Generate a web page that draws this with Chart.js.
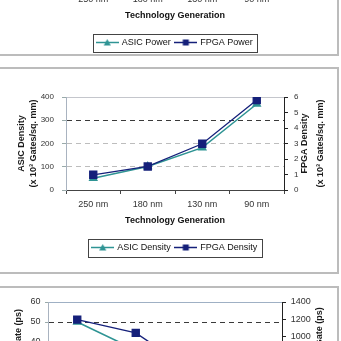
<!DOCTYPE html>
<html><head><meta charset="utf-8">
<script src="https://cdn.jsdelivr.net/npm/chart.js@4"></script>
<style>
html,body{margin:0;padding:0;background:#fff;width:341px;height:341px;overflow:hidden;position:relative}
.panel{position:absolute;border:2px solid #bcbcbc;box-sizing:border-box;background:#fff}
.wrap{position:absolute;left:0;width:339px}
canvas{display:block}
</style></head><body>
<div class="panel" style="left:-4px;top:-20px;width:343px;height:76px"></div>
<div class="panel" style="left:-2px;top:67px;width:341px;height:207px"></div>
<div class="panel" style="left:-2px;top:286px;width:341px;height:80px"></div>
<div class="wrap" style="top:-137px;height:204px"><canvas id="c1"></canvas></div>
<div class="wrap" style="top:68px;height:204px"><canvas id="c2"></canvas></div>
<div class="wrap" style="top:287px;height:218px"><canvas id="c3"></canvas></div>
<script>
// ---- data ----
const categories = ['250 nm', '180 nm', '130 nm', '90 nm'];
const asicPower = [1.0, 0.6, 0.35, 0.2];
const fpgaPower = [14, 9, 5, 3];
const asicDensity = [51, 101, 182, 370];
const fpgaDensity = [0.98, 1.52, 2.98, 5.8];
const asicDelay = [50, 36, 27, 20];
const fpgaDelay = [1195, 1040, 580, 400];
const densityLeftTicks = {min: 0, max: 400, step: 100};
const densityRightTicks = {min: 0, max: 6, step: 1};
const delayLeftTicks = {min: 0, max: 60, step: 10};
const delayRightTicks = {min: 0, max: 1400, step: 200};
const powerLeftTicks = {min: 0, max: 1.2, step: 0.2};
const powerRightTicks = {min: 0, max: 16, step: 2};

const F = '"Liberation Sans", Arial, sans-serif';
const TEAL = '#2f9494';
const NAVY = '#15207a';

function legendIcon(color, tri) {
  const c = document.createElement('canvas');
  c.width = 23; c.height = 9;
  const g = c.getContext('2d');
  g.strokeStyle = color; g.lineWidth = 1.5;
  g.beginPath(); g.moveTo(0, 4.5); g.lineTo(23, 4.5); g.stroke();
  g.fillStyle = color;
  if (tri) { g.beginPath(); g.moveTo(11.5, 1); g.lineTo(15, 7.5); g.lineTo(8, 7.5); g.closePath(); g.fill(); }
  else { g.fillRect(8.5, 1.5, 6, 6); }
  return c;
}
const iconA = legendIcon(TEAL, true), iconF = legendIcon(NAVY, false);

const legendFrame = {
  id: 'legendFrame',
  afterDraw(chart) {
    const lg = chart.legend;
    if (!lg || !lg.legendHitBoxes || !lg.legendHitBoxes.length) return;
    let l = Infinity, r = -Infinity, t = Infinity, b = -Infinity;
    lg.legendHitBoxes.forEach(h => {
      l = Math.min(l, h.left); r = Math.max(r, h.left + h.width);
      t = Math.min(t, h.top); b = Math.max(b, h.top + h.height);
    });
    const ctx = chart.ctx;
    ctx.save();
    ctx.strokeStyle = '#444'; ctx.lineWidth = 1;
    const x0 = Math.round(l - 4.5) + 0.5, y0 = Math.round(t - 4) + 0.5;
    ctx.strokeRect(x0, y0, Math.round(r + 4.5) - Math.round(l - 4.5), Math.round(b + 5) - Math.round(t - 4));
    ctx.restore();
  }
};

const rightTitle = {
  id: 'rightTitle',
  afterDraw(chart, args, opts) {
    const s = chart.scales.y1;
    if (!s || !opts.lines) return;
    const ctx = chart.ctx;
    ctx.save();
    ctx.font = 'bold 9px ' + F;
    ctx.fillStyle = '#1a1a1a';
    ctx.textAlign = 'center'; ctx.textBaseline = 'middle';
    const cy = (chart.chartArea.top + chart.chartArea.bottom) / 2;
    opts.lines.forEach((t, i) => {
      ctx.save();
      ctx.translate(s.right - opts.offsets[i], cy);
      ctx.rotate(-Math.PI / 2);
      ctx.fillText(t, 0, 0);
      ctx.restore();
    });
    ctx.restore();
  }
};

function build(id, o) {
  const gridCol = (ctx) => {
    const v = ctx.tick ? ctx.tick.value : null;
    if (v === o.lt.min || v === o.lt.max) return 'rgba(0,0,0,0)';
    if (v === o.darkAt) return '#3a3a3a';
    return '#bdbdbd';
  };
  const plain = v => String(v);
  return new Chart(document.getElementById(id), {
    type: 'line',
    data: {
      labels: categories,
      datasets: [
        {label: o.names[0], data: o.a, yAxisID: 'y', borderColor: TEAL, backgroundColor: TEAL,
         pointStyle: 'triangle', pointRadius: 4, borderWidth: 1.5, order: 1, tension: 0},
        {label: o.names[1], data: o.f, yAxisID: 'y1', borderColor: NAVY, backgroundColor: NAVY,
         pointStyle: 'rect', pointRadius: 5, borderWidth: 1.3, order: 0, tension: 0}
      ]
    },
    options: {
      responsive: true, maintainAspectRatio: false, animation: false, devicePixelRatio: 1,
      layout: {padding: {top: o.padTop, bottom: o.padBottom, left: 0, right: 0}},
      plugins: {
        tooltip: {enabled: false},
        legend: {
          position: 'bottom', fullSize: false,
          labels: {
            usePointStyle: true, pointStyleWidth: 20, padding: 5, color: '#111',
            font: {family: F, size: 9},
            sort: (a, b) => a.datasetIndex - b.datasetIndex,
            generateLabels: (chart) => chart.data.datasets.map((d, i) => ({
              text: d.label, datasetIndex: i, pointStyle: i === 0 ? iconA : iconF,
              fillStyle: d.borderColor, strokeStyle: d.borderColor, lineWidth: 0, hidden: false, fontColor: '#111'
            }))
          }
        },
        rightTitle: {lines: o.rLines, offsets: o.rOffsets}
      },
      scales: {
        x: {
          type: 'category', offset: true,
          grid: {offset: true, drawOnChartArea: false, drawTicks: true, tickLength: 4, color: '#444'},
          border: {color: '#444', width: 1},
          ticks: {font: {family: F, size: 9}, color: '#333', padding: 5, maxRotation: 0, autoSkip: false},
          title: {display: true, text: 'Technology Generation', color: '#111',
                  font: {family: F, size: 9, weight: 'bold'}, padding: {top: 0, bottom: o.xTitlePad}},
          afterFit: s => { s.height = o.xH; }
        },
        xt: {
          type: 'category', position: 'top', offset: true,
          ticks: {display: false}, grid: {display: false, drawTicks: false},
          border: {display: true, color: o.topCol, width: 1},
          afterFit: s => { s.height = 0; }
        },
        y: {
          position: 'left', min: o.lt.min, max: o.lt.max,
          ticks: {stepSize: o.lt.step, callback: plain, font: {family: F, size: o.yFont}, color: '#333', padding: o.lPad},
          grid: {color: gridCol, tickColor: '#9aa', tickLength: o.lTick, lineWidth: 1},
          border: {dash: [5, 4], color: '#a9b3c0', width: 1},
          title: {display: true, text: o.lLines, color: '#1a1a1a',
                  font: {family: F, size: 9, weight: 'bold', lineHeight: 1.28}, padding: {top: o.lTitlePad, bottom: 0}},
          afterFit: s => { s.width = o.lW; }
        },
        y1: {
          position: 'right', min: o.rt.min, max: o.rt.max,
          ticks: {stepSize: o.rt.step, callback: plain, font: {family: F, size: o.yFont}, color: '#333', padding: o.rPad},
          grid: {drawOnChartArea: false, tickLength: 4, color: '#222'},
          border: {color: '#222', width: 1},
          afterFit: s => { s.width = o.rW; }
        }
      }
    },
    plugins: [legendFrame, rightTitle]
  });
}

const densityLayout = {padTop: 29, padBottom: 10, xH: 48, xTitlePad: 11.6, lW: 66, rW: 55,
  lPad: 8, rPad: 6, lTick: 4, lTitlePad: 16.2, yFont: 8, topCol: '#c4c6cc'};

build('c1', Object.assign({}, densityLayout, {
  names: ['ASIC Power', 'FPGA Power'], a: asicPower, f: fpgaPower,
  lt: powerLeftTicks, rt: powerRightTicks, darkAt: 1.0,
  lLines: ['ASIC Power', '(mW/MHz)'], rLines: ['FPGA Power', '(mW/MHz)'], rOffsets: [34, 18.3]
}));

build('c2', Object.assign({}, densityLayout, {
  names: ['ASIC Density', 'FPGA Density'], a: asicDensity, f: fpgaDensity,
  lt: densityLeftTicks, rt: densityRightTicks, darkAt: 300,
  lLines: ['ASIC Density', '(x 10³ Gates/sq. mm)'],
  rLines: ['FPGA Density', '(x 10³ Gates/sq. mm)'], rOffsets: [34, 18.3]
}));

build('c3', {
  padTop: 15, padBottom: 5, xH: 40, xTitlePad: 10, lW: 48, rW: 57,
  lPad: 4.5, rPad: 4.7, lTick: 3, lTitlePad: 12.6, yFont: 9, topCol: '#9fb0c4',
  names: ['ASIC Delay per Gate', 'FPGA Delay per Gate'], a: asicDelay, f: fpgaDelay,
  lt: delayLeftTicks, rt: delayRightTicks, darkAt: 50,
  lLines: 'ASIC Delay per Gate (ps)', rLines: ['FPGA Delay per Gate (ps)'], rOffsets: [19]
});
</script>
</body></html>
